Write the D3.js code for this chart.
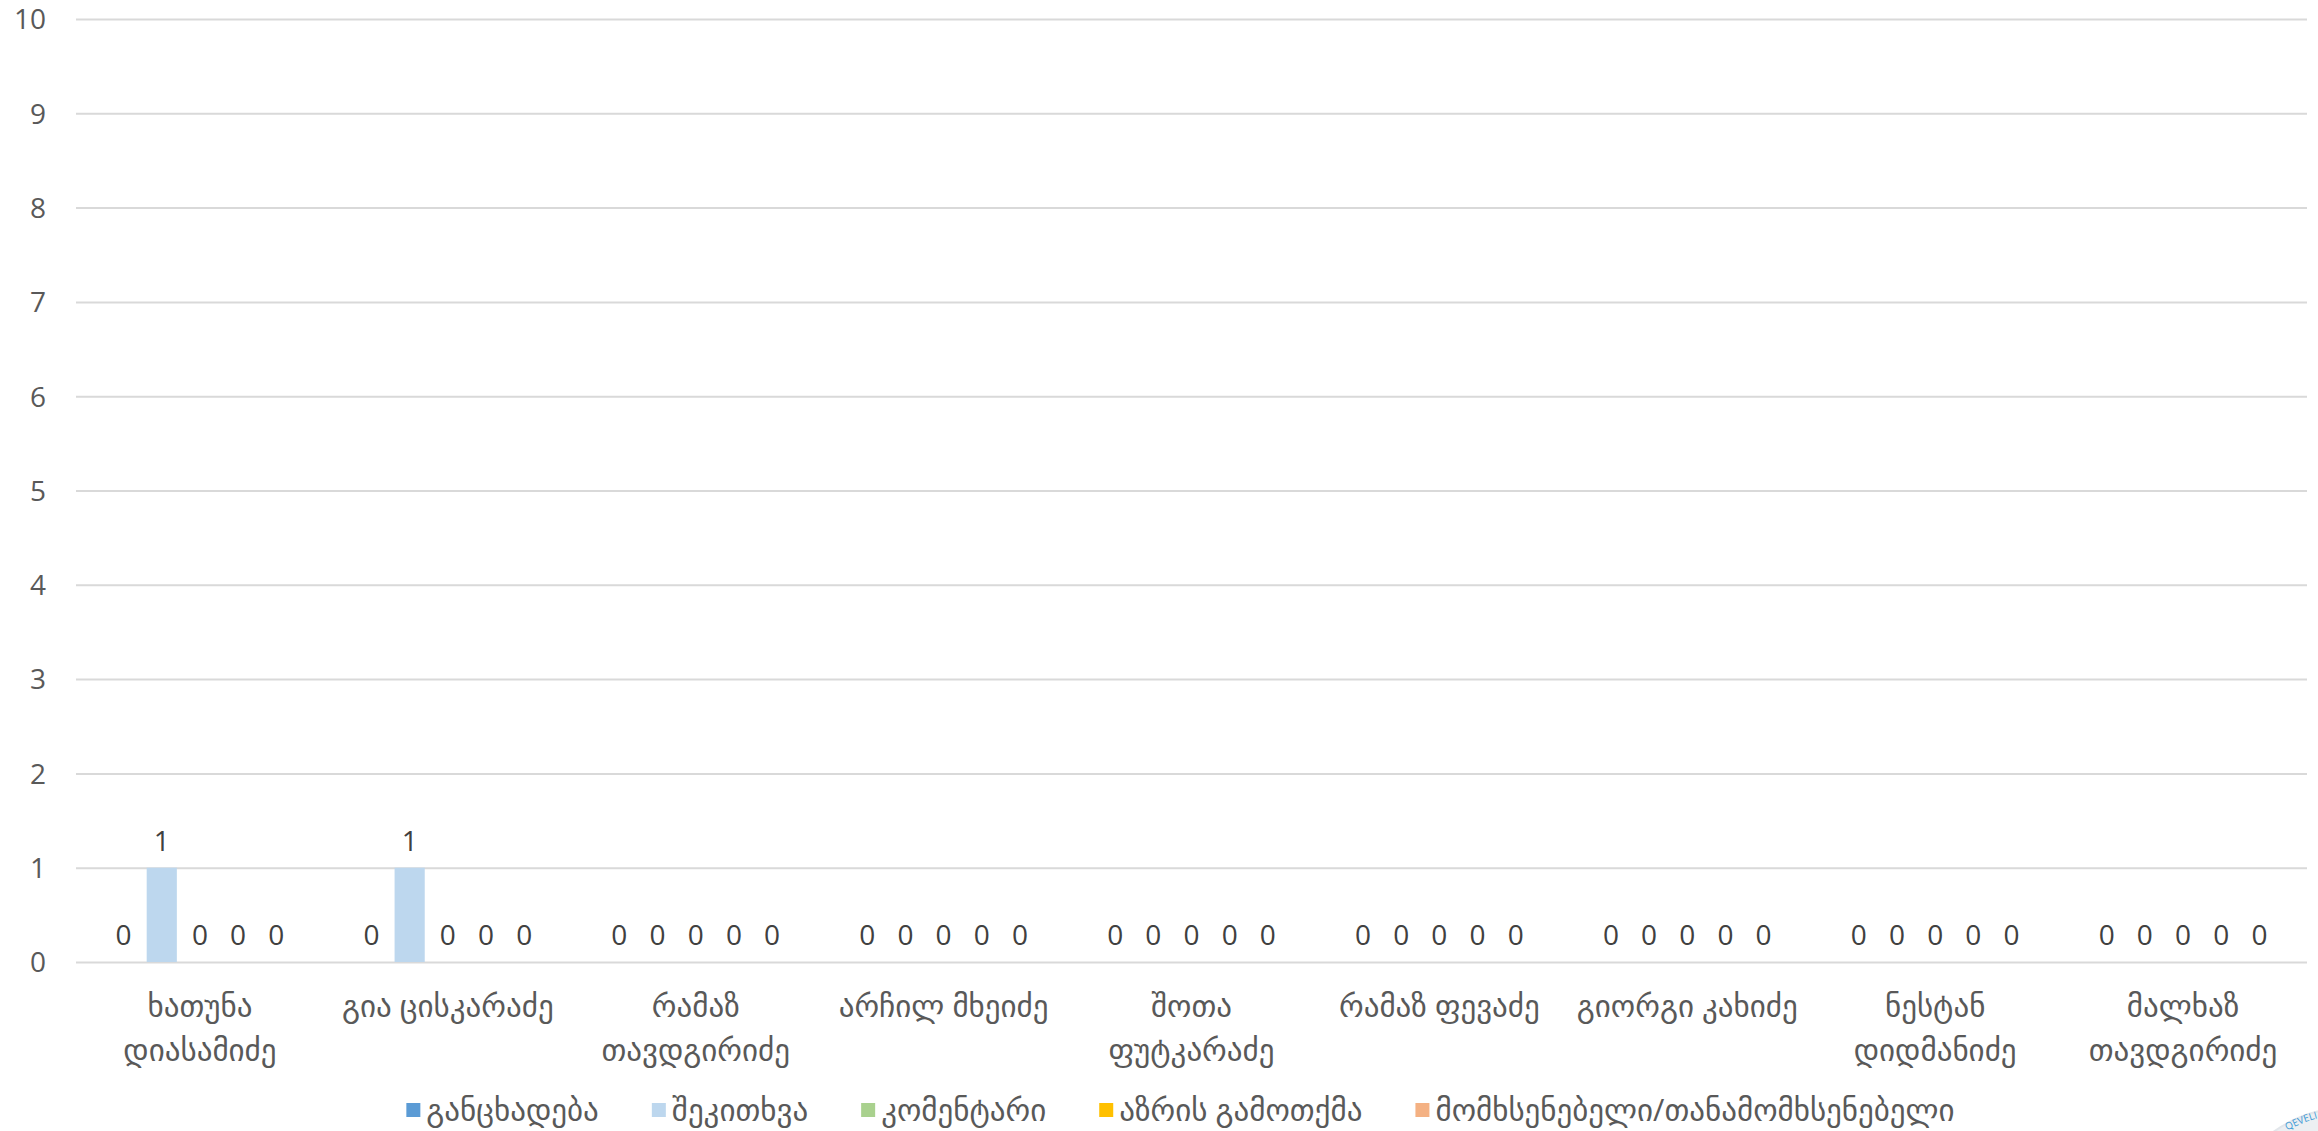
<!DOCTYPE html>
<html>
<head>
<meta charset="utf-8">
<script src="https://cdn.jsdelivr.net/npm/d3@7"></script>
<style>
  html, body { margin: 0; padding: 0; background: #ffffff; }
  svg { display: block; }
  text { font-family: "Open Sans", "DejaVu Sans", sans-serif; fill: #595959; }
</style>
</head>
<body>
<svg id="chart" width="2318" height="1131"></svg>
<script>
const categories = [
  "ხათუნა დიასამიძე",
  "გია ცისკარაძე",
  "რამაზ თავდგირიძე",
  "არჩილ მხეიძე",
  "შოთა ფუტკარაძე",
  "რამაზ ფევაძე",
  "გიორგი კახიძე",
  "ნესტან დიდმანიძე",
  "მალხაზ თავდგირიძე"
];
// category labels as they wrap in the reference
const categoryLines = [
  ["ხათუნა", "დიასამიძე"],
  ["გია ცისკარაძე"],
  ["რამაზ", "თავდგირიძე"],
  ["არჩილ მხეიძე"],
  ["შოთა", "ფუტკარაძე"],
  ["რამაზ ფევაძე"],
  ["გიორგი კახიძე"],
  ["ნესტან", "დიდმანიძე"],
  ["მალხაზ", "თავდგირიძე"]
];
const seriesNames = ["განცხადება", "შეკითხვა", "კომენტარი", "აზრის გამოთქმა", "მომხსენებელი/თანამომხსენებელი"];
const seriesColors = ["#5B9BD5", "#BDD7EE", "#A9D18E", "#FFC000", "#F4B183"];
const values_0 = [0, 0, 0, 0, 0, 0, 0, 0, 0];
const values_1 = [1, 1, 0, 0, 0, 0, 0, 0, 0];
const values_2 = [0, 0, 0, 0, 0, 0, 0, 0, 0];
const values_3 = [0, 0, 0, 0, 0, 0, 0, 0, 0];
const values_4 = [0, 0, 0, 0, 0, 0, 0, 0, 0];
const seriesValues = [values_0, values_1, values_2, values_3, values_4];
const yTicks = [0, 1, 2, 3, 4, 5, 6, 7, 8, 9, 10];

const svg = d3.select("#chart");
const plotLeft = 76, plotRight = 2307, plotTop = 19, plotBottom = 962;

const x0 = d3.scaleBand().domain(categories).range([plotLeft, plotRight]).padding(0);
const groupPad = 28.5;
const x1 = d3.scaleBand().domain(d3.range(seriesNames.length))
  .range([groupPad, x0.bandwidth() - groupPad]).paddingInner(0.21).paddingOuter(0.105);
const y = d3.scaleLinear().domain([0, 10]).range([plotBottom, plotTop]);

// watermark stamp (partial, bottom-right corner)
const stamp = svg.append("g").attr("transform", "translate(2350,1240)");
stamp.append("circle").attr("r", 132.5).attr("fill", "#eceff2").attr("stroke", "#e2e6ea").attr("stroke-width", 2);
stamp.append("path").attr("id", "stampArc")
  .attr("d", "M" + d3.pointRadial(-0.52, 126).join(",") + " A126,126 0 0,1 " + d3.pointRadial(0.3, 126).join(","))
  .attr("fill", "none");
stamp.append("text").style("font-size", "10px").style("fill", "#3d9ad6")
  .append("textPath").attr("href", "#stampArc").text("QEVELI");

// gridlines
const grid = svg.append("g").attr("class", "grid")
  .attr("transform", `translate(${plotLeft},0)`)
  .call(d3.axisLeft(y).tickValues(yTicks).tickSize(-(plotRight - plotLeft)).tickFormat(""));
grid.select(".domain").remove();
grid.selectAll("line").attr("stroke", "#d9d9d9").attr("stroke-width", 2);

// y tick labels
const yAxis = svg.append("g").attr("transform", `translate(46,0)`)
  .call(d3.axisLeft(y).tickValues(yTicks).tickSize(0).tickPadding(0));
yAxis.select(".domain").remove();
yAxis.selectAll("text")
  .style("font-size", "28px").style("font-family", "'Open Sans', 'DejaVu Sans', sans-serif")
  .style("fill", "#595959").attr("dy", "0.35em");

// bars
const groups = svg.append("g").selectAll("g").data(categories).join("g")
  .attr("transform", d => `translate(${x0(d)},0)`);
groups.each(function(cat, ci) {
  const g = d3.select(this);
  seriesValues.forEach((vals, si) => {
    const v = vals[ci];
    if (v > 0) {
      g.append("rect")
        .attr("x", x1(si)).attr("width", x1.bandwidth())
        .attr("y", y(v)).attr("height", y(0) - y(v))
        .attr("fill", seriesColors[si]);
    }
    g.append("text")
      .attr("x", x1(si) + x1.bandwidth() / 2)
      .attr("y", y(v) - 17)
      .attr("text-anchor", "middle")
      .style("font-size", "28px")
      .style("fill", "#404040")
      .text(v);
  });
});

// category labels
const catFont = 31;
const xLab = svg.append("g");
categories.forEach((cat, ci) => {
  const cxm = x0(cat) + x0.bandwidth() / 2;
  const t = xLab.append("text")
    .attr("x", cxm)
    .attr("text-anchor", "middle")
    .style("font-size", catFont + "px");
  categoryLines[ci].forEach((ln, i) => {
    t.append("tspan").attr("x", cxm).attr("y", 1017 + i * 44).text(ln);
  });
});

// legend
const legend = svg.append("g");
let cx = 0;
const legendGap = 53;
seriesNames.forEach((name, i) => {
  const g = legend.append("g");
  g.append("rect").attr("x", 0).attr("y", -7).attr("width", 14).attr("height", 14).attr("fill", seriesColors[i]);
  const t = g.append("text").attr("x", 20).attr("y", 0).attr("dy", "0.35em")
    .style("font-size", "31px").text(name);
  const w = 20 + t.node().getComputedTextLength();
  g.attr("transform", `translate(${cx},0)`);
  cx += w + legendGap;
});
const totalW = cx - legendGap;
legend.attr("transform", `translate(${(plotLeft + plotRight) / 2 - totalW / 2 - 11},1110)`);
</script>
</body>
</html>
